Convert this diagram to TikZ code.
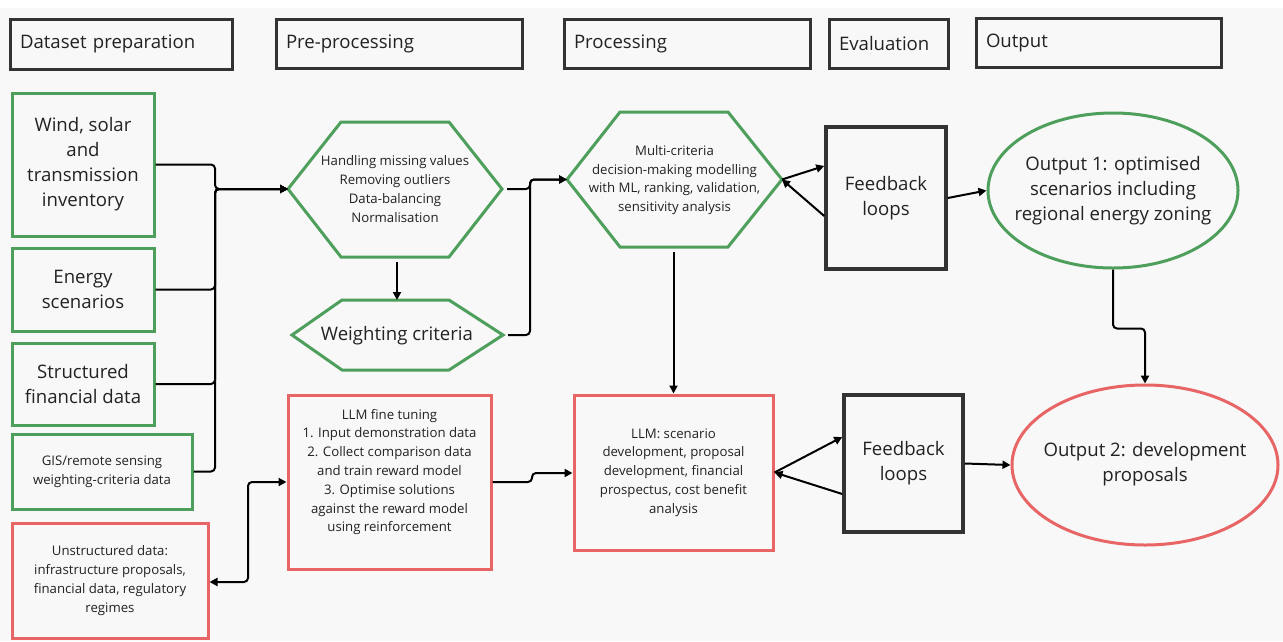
\documentclass[tikz,border=0pt]{standalone}
\usepackage{fontspec}
\setmainfont{Open Sans}
\usetikzlibrary{shapes.geometric,arrows.meta}
\definecolor{grn}{HTML}{4E9F5C}
\definecolor{rd}{HTML}{E86565}
\definecolor{dk}{HTML}{333333}
\definecolor{bg}{HTML}{F8F8F8}
\definecolor{txt}{HTML}{222222}
\begin{document}
\begin{tikzpicture}[x=1pt,y=-1pt,
  big/.style={font=\fontsize{18.6}{25}\selectfont,text=txt},
  small/.style={font=\fontsize{13.2}{18.8}\selectfont,text=txt},
  hdr/.style={draw=dk,line width=3pt,fill=bg,inner xsep=10pt,inner ysep=0pt,align=left,big},
  gbox/.style={draw=grn,line width=3pt,fill=bg,align=center,inner sep=0pt},
  rbox/.style={draw=rd,line width=3pt,fill=bg,align=center,inner sep=0pt},
  fbox/.style={draw=dk,line width=3.5pt,fill=bg,align=center,inner sep=0pt,big},
  hexline/.style={line width=3pt,fill=bg,line join=miter},
  oval/.style={ellipse,line width=3pt,fill=bg,inner sep=0pt},
  conn/.style={line width=2pt,rounded corners=4pt,draw=black},
  arr/.style={conn,-{Triangle[length=8pt,width=8pt]}},
  darr/.style={conn,{Triangle[length=8pt,width=8pt]}-{Triangle[length=8pt,width=8pt]}},
  plain/.style={inner sep=0pt,align=center}
]
\fill[white] (0,0) rectangle (1283,641);
\fill[bg] (0,8) rectangle (1283,641);
\useasboundingbox (0,0) rectangle (1283,641);

% headers
\node[hdr,minimum width=222,minimum height=50,text width=202] (h1) at (121,44) {Dataset preparation};
\node[hdr,minimum width=246,minimum height=49,text width=226] (h2) at (399,43.5) {Pre-processing};
\node[hdr,minimum width=246,minimum height=49,text width=226] (h3) at (687,43.5) {Processing};
\node[hdr,minimum width=119,minimum height=49,text width=99] (h4) at (888.5,43.5) {Evaluation};
\node[hdr,minimum width=245,minimum height=49,text width=225] (h5) at (1098.5,42.5) {Output};

% left column
\node[gbox,big,minimum width=142,minimum height=143] (wind) at (83,164.5) {Wind, solar\\and\\transmission\\inventory};
\node[gbox,big,minimum width=142,minimum height=83] (energy) at (83,289.5) {Energy\\scenarios};
\node[gbox,big,minimum width=142,minimum height=82] (struct) at (83,384) {Structured\\financial data};
\node[gbox,small,minimum width=180,minimum height=75] (gis) at (102,471.5) {GIS/remote sensing\\weighting-criteria data};
\node[rbox,small,minimum width=196,minimum height=115] (unstr) at (110,580.5) {Unstructured data:\\infrastructure proposals,\\financial data, regulatory\\regimes};

% hexagon A (pre-processing)
\draw[hexline,draw=grn] (288,189) -- (341,122) -- (449,122) -- (502,189) -- (449,257) -- (341,257) -- cycle;
\node[plain,small] (hexA) at (395,189) {Handling missing values\\Removing outliers\\Data-balancing\\Normalisation};
\coordinate (hexA-w) at (288,189);
\coordinate (hexA-e) at (502,189);
\coordinate (hexA-s) at (397,257);

% hexagon W (weighting)
\draw[hexline,draw=grn] (292,335) -- (342,300) -- (449,300) -- (503,335) -- (449,370) -- (342,370) -- cycle;
\node[plain,big] (hexW) at (397,336) {Weighting criteria};
\coordinate (hexW-n) at (397,300);
\coordinate (hexW-e) at (503,335);

% hexagon B (processing)
\draw[hexline,draw=grn] (567,179.5) -- (620,112) -- (728,112) -- (782,179.5) -- (728,247) -- (620,247) -- cycle;
\node[plain,small] (hexB) at (674.5,180) {Multi-criteria\\decision-making modelling\\with ML, ranking, validation,\\sensitivity analysis};
\coordinate (hexB-w) at (567,179.5);
\coordinate (hexB-e) at (782,179.5);
\coordinate (hexB-s) at (673.5,247);

% fine tuning and LLM
\node[rbox,minimum width=203,minimum height=174] (ft) at (389.5,482) {};
\node[plain,small] (ftt) at (389.5,472) {LLM fine tuning\\1. Input demonstration data\\2. Collect comparison data\\and train reward model\\3. Optimise solutions\\against the reward model\\using reinforcement};
\node[rbox,small,minimum width=199,minimum height=155] (llm) at (673.5,472.5) {LLM: scenario\\development, proposal\\development, financial\\prospectus, cost benefit\\analysis};

% feedback boxes
\node[fbox,minimum width=120,minimum height=142] (fb1) at (886,198) {Feedback\\loops};
\node[fbox,minimum width=119,minimum height=137] (fb2) at (903.5,463.5) {Feedback\\loops};

% outputs
\node[oval,draw=grn,minimum width=250,minimum height=155] (out1) at (1113,190.5) {};
\node[plain,big] (out1t) at (1113,191) {Output 1: optimised\\scenarios including\\regional energy zoning};
\node[oval,draw=rd,minimum width=266,minimum height=160] (out2) at (1145,465) {};
\node[plain,big] (out2t) at (1145,464.5) {Output 2: development\\proposals};

% connectors
\coordinate (bus) at (215,189);
\draw[arr] (wind.east) -| (bus) -- (hexA-w);
\draw[arr] (energy.east) -| (bus) -- (hexA-w);
\draw[arr] (struct.east) -| (bus) -- (hexA-w);
\draw[arr] (gis.east) -| (bus) -- (hexA-w);

\draw[arr,shorten <=5pt] (hexA-s) -- (hexA-s |- hexW-n);

\coordinate (j2) at (530,179.5);
\draw[arr,shorten <=5pt] (hexA-e) -| (j2) -- (hexB-w);
\draw[arr,shorten <=5pt] (hexW-e) -| (j2) -- (hexB-w);

\draw[arr,shorten <=5pt] (hexB-s) -- (hexB-s |- llm.north);

\draw[arr] (hexB-e) -- ([yshift=32pt]fb1.west);
\draw[arr] ([yshift=-18pt]fb1.west) -- (hexB-e);
\draw[arr] (fb1.east) -- (out1.west);

\draw[arr] (out1.south) -- ++(0,59) -| (out2.north);

\coordinate (j4) at (248,582);
\draw[darr] (unstr.east |- j4) -- (j4) |- (ft.west);

\coordinate (j5) at (532,482);
\draw[arr] (ft.east) -- (j5) -- (532,473) -- (llm.west |- 0,473);

\draw[arr] (llm.east) -- ([yshift=26.5pt]fb2.west);
\draw[arr] ([yshift=-30.5pt]fb2.west) -- (llm.east);
\draw[arr] (fb2.east) -- (out2.west);
\end{tikzpicture}
\end{document}
